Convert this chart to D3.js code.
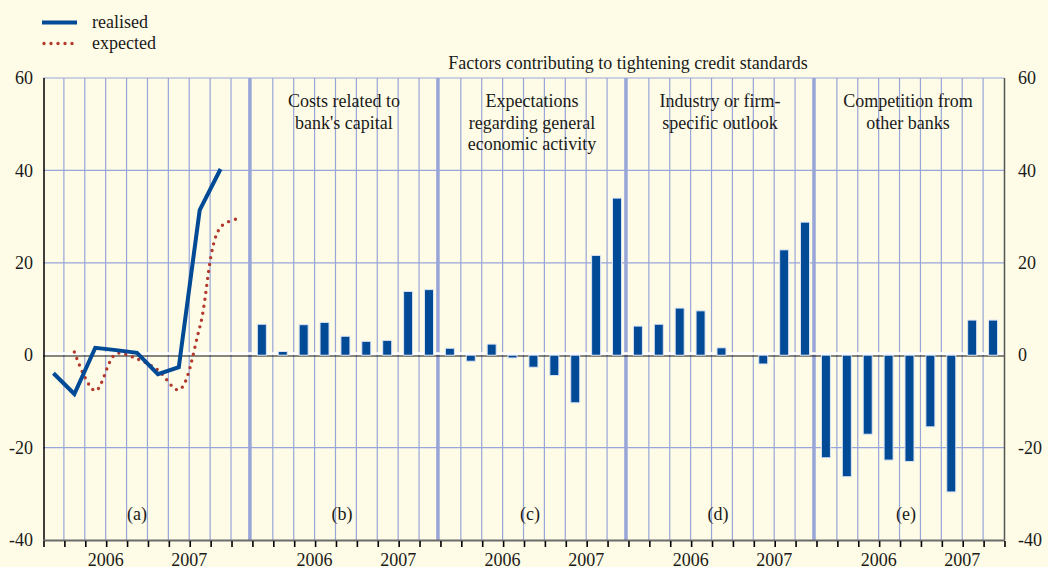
<!DOCTYPE html>
<html>
<head>
<meta charset="utf-8">
<script src="https://cdnjs.cloudflare.com/ajax/libs/d3/7.8.5/d3.min.js"></script>
<style>
  body { margin: 0; background: #fefce6; }
  svg { display: block; font-family: "Liberation Serif", "DejaVu Serif", serif; }
  .lbl { font-size: 18px; fill: #1a1a1a; }
</style>
</head>
<body>
<div id="chart"></div>
<script>
// Panel (a): realised / expected overall credit standards; (b)-(e): factors
var panelIds = ['(a)', '(b)', '(c)', '(d)', '(e)'];
var panelTitles = [
    [],
    ['Costs related to', "bank's capital"],
    ['Expectations', 'regarding general', 'economic activity'],
    ['Industry or firm-', 'specific outlook'],
    ['Competition from', 'other banks']
];
var quartersA = ['2005Q4', '2006Q1', '2006Q2', '2006Q3', '2006Q4',
                 '2007Q1', '2007Q2', '2007Q3', '2007Q4', '2008Q1'];
var quartersBars = quartersA.slice(0, 9);
var years = ['2006', '2007'];

var realised = [-3.9, -8.4, 1.6, 1.1, 0.5, -4.1, -2.6, 31.4, 40.3];   // 2005Q4 - 2007Q4
var expected = [0.7, -7.7, 0.3, -0.8, -3.2, -7.5, 6.0, 27.7, 29.7];   // 2006Q1 - 2008Q1

var capitalCosts     = [6.7, 0.8, 6.6, 7.1, 4.1, 3.0, 3.2, 13.8, 14.2];
var economicActivity = [1.5, -1.3, 2.4, -0.6, -2.6, -4.4, -10.3, 21.6, 34.0];
var firmOutlook      = [6.3, 6.7, 10.2, 9.6, 1.6, 0, -1.9, 22.8, 28.8];
var competition      = [-22.2, -26.3, -17.1, -22.7, -23.0, -15.5, -29.6, 7.6, 7.6];
var barSeries = [capitalCosts, economicActivity, firmOutlook, competition];

var yTicks = [-40, -20, 0, 20, 40, 60];
var gridTicks = [-20, 20, 40, 60];

var width = 1048, height = 567;
var blue = '#004a96', red = '#b3382d', gridCol = '#98a5d9';

// one band per quarter per panel
var panelQuarters = panelIds.map(function(p, i) { return i === 0 ? quartersA : quartersBars; });
var keys = [];
panelQuarters.forEach(function(qs, i) {
    qs.forEach(function(q) { keys.push(i + '|' + q); });
});

var x = d3.scaleBand().domain(keys).range([43, 1004]);
var y = d3.scaleLinear().domain([-40, 60]).range([540, 78]);
var bw = x.bandwidth();

var svg = d3.select('#chart').append('svg')
    .attr('width', width).attr('height', height);
svg.append('rect').attr('width', width).attr('height', height).attr('fill', '#fefce6');

// horizontal gridlines
svg.selectAll('line.hgrid').data(gridTicks).enter().append('line')
    .attr('class', 'hgrid')
    .attr('x1', x.range()[0]).attr('x2', x.range()[1])
    .attr('y1', function(d) { return y(d); }).attr('y2', function(d) { return y(d); })
    .attr('stroke', gridCol).attr('stroke-width', 1.2);

// vertical gridlines at every quarter boundary, thick ones between panels
var firstKeys = panelQuarters.map(function(qs, i) { return i + '|' + qs[0]; });
var inner = keys.slice(1);
svg.selectAll('line.vgrid').data(inner).enter().append('line')
    .attr('class', 'vgrid')
    .attr('x1', function(d) { return firstKeys.indexOf(d) > 0 ? x(d) - 2 : x(d); })
    .attr('x2', function(d) { return firstKeys.indexOf(d) > 0 ? x(d) - 2 : x(d); })
    .attr('y1', y(60)).attr('y2', y(-40))
    .attr('stroke', gridCol)
    .attr('stroke-width', function(d) { return firstKeys.indexOf(d) > 0 ? 3.5 : 1.2; });

// zero line: white band with black rule beneath
svg.append('line')
    .attr('x1', x.range()[0]).attr('x2', x.range()[1])
    .attr('y1', y(0) - 1.8).attr('y2', y(0) - 1.8)
    .attr('stroke', '#ffffff').attr('stroke-width', 2.5);
svg.append('line')
    .attr('x1', x.range()[0]).attr('x2', x.range()[1])
    .attr('y1', y(0) + 0.8).attr('y2', y(0) + 0.8)
    .attr('stroke', '#111').attr('stroke-width', 1.2);

// bars for panels (b)-(e)
var barData = [];
barSeries.forEach(function(vals, i) {
    vals.forEach(function(v, j) {
        barData.push({ key: (i + 1) + '|' + quartersBars[j], value: v });
    });
});
var barW = 9;
svg.selectAll('rect.bar').data(barData.filter(function(d) { return d.value !== 0; }))
    .enter().append('rect')
    .attr('class', 'bar')
    .attr('x', function(d) { return x(d.key) + bw / 2 - barW / 2 - 0.5; })
    .attr('y', function(d) { return d.value > 0 ? y(d.value) : y(0); })
    .attr('width', barW)
    .attr('height', function(d) { return Math.abs(y(d.value) - y(0)); })
    .attr('fill', blue)
    .attr('stroke', '#dbe3f5').attr('stroke-width', 1);

// panel (a) lines
var realisedPts = realised.map(function(v, j) { return [x('0|' + quartersA[j]) + bw / 2, y(v)]; });
var expectedPts = expected.map(function(v, j) { return [x('0|' + quartersA[j + 1]) + bw / 2, y(v)]; });

svg.append('path')
    .attr('d', d3.line().curve(d3.curveCatmullRom.alpha(0.5))(expectedPts))
    .attr('fill', 'none').attr('stroke', red).attr('stroke-width', 3.4)
    .attr('stroke-linecap', 'round').attr('stroke-dasharray', '0 7');
svg.append('path')
    .attr('d', d3.line()(realisedPts))
    .attr('fill', 'none').attr('stroke', blue).attr('stroke-width', 4)
    .attr('stroke-linejoin', 'miter');

// axes frame
svg.append('line').attr('x1', 44).attr('x2', 44).attr('y1', y(60)).attr('y2', y(-40))
    .attr('stroke', '#000').attr('stroke-width', 1.5);
svg.append('line').attr('x1', 1004.5).attr('x2', 1004.5).attr('y1', y(60)).attr('y2', y(-40))
    .attr('stroke', '#555').attr('stroke-width', 1.5);
svg.append('line').attr('x1', 43).attr('x2', 1005).attr('y1', y(-40) + 0.5).attr('y2', y(-40) + 0.5)
    .attr('stroke', '#6b6b6b').attr('stroke-width', 2.2);

// bottom ticks at every quarter boundary
var bounds = keys.map(function(k) { return x(k); }).concat([x.range()[1]]);
svg.selectAll('line.xtick').data(bounds).enter().append('line')
    .attr('class', 'xtick')
    .attr('x1', function(d) { return d + 1; }).attr('x2', function(d) { return d + 1; })
    .attr('y1', y(-40) + 1).attr('y2', y(-40) + 7)
    .attr('stroke', '#000').attr('stroke-width', 1.6);

// y axes (plain hyphen for negatives, as in the original)
var fmt = function(d) { return String(d); };
var yl = svg.append('g').attr('transform', 'translate(44,0)')
    .call(d3.axisLeft(y).tickValues(yTicks).tickSize(0).tickPadding(11).tickFormat(fmt));
var yr = svg.append('g').attr('transform', 'translate(1004,0)')
    .call(d3.axisRight(y).tickValues(yTicks).tickSize(0).tickPadding(14).tickFormat(fmt));
[yl, yr].forEach(function(g) {
    g.select('.domain').remove();
    g.attr('font-family', null).attr('font-size', null);
    g.selectAll('text').attr('class', 'lbl').style('fill', '#1a1a1a');
});

// year labels
panelQuarters.forEach(function(qs, i) {
    years.forEach(function(yr) {
        var ks = qs.filter(function(q) { return q.indexOf(yr) === 0; }).map(function(q) { return i + '|' + q; });
        var cx = (x(ks[0]) + x(ks[ks.length - 1]) + bw) / 2;
        svg.append('text').attr('class', 'lbl').attr('x', cx).attr('y', 566)
            .attr('text-anchor', 'middle').text(yr);
    });
});

// panel letters and titles
panelIds.forEach(function(p, i) {
    var qs = i === 0 ? quartersBars : panelQuarters[i];
    var x0 = x(i + '|' + qs[0]), x1 = x(i + '|' + qs[qs.length - 1]) + bw;
    var cx = i === 0 ? (x0 + x1) / 2 : (x0 + x1) / 2 - 4;
    svg.append('text').attr('class', 'lbl').attr('x', cx).attr('y', 520)
        .attr('text-anchor', 'middle').text(p);
    panelTitles[i].forEach(function(t, j) {
        svg.append('text').attr('class', 'lbl').attr('x', (x0 + x1) / 2 - 2).attr('y', 107 + j * 21.5)
            .attr('text-anchor', 'middle').text(t);
    });
});

svg.append('text').attr('class', 'lbl')
    .attr('x', (x('1|' + quartersBars[0]) + x.range()[1]) / 2).attr('y', 69)
    .attr('text-anchor', 'middle').text('Factors contributing to tightening credit standards');

// legend
svg.append('line').attr('x1', 42).attr('x2', 77).attr('y1', 22.5).attr('y2', 22.5)
    .attr('stroke', blue).attr('stroke-width', 4);
svg.append('text').attr('class', 'lbl').attr('x', 92).attr('y', 28).text('realised');
svg.append('line').attr('x1', 44).attr('x2', 77).attr('y1', 43.5).attr('y2', 43.5)
    .attr('stroke', red).attr('stroke-width', 3.4).attr('stroke-linecap', 'round')
    .attr('stroke-dasharray', '0 7');
svg.append('text').attr('class', 'lbl').attr('x', 92).attr('y', 49).text('expected');
</script>
</body>
</html>
